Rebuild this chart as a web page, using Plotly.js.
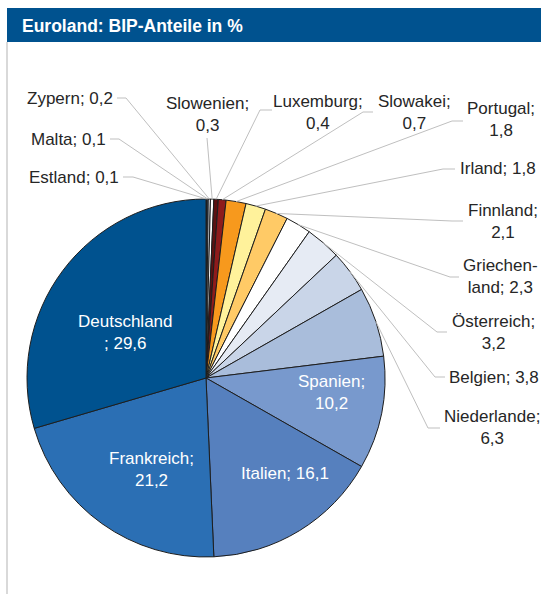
<!DOCTYPE html>
<html>
<head>
<meta charset="utf-8">
<script src="https://cdn.plot.ly/plotly-3.0.1.min.js"></script>
<style>html,body{margin:0;padding:0;background:#fff;}#chart{width:541px;height:594px;}</style>
</head>
<body>
<div id="chart"></div>
<script>
// ---- data ----
const countries = ['Estland','Malta','Zypern','Slowenien','Luxemburg','Slowakei','Portugal','Irland','Finnland','Griechenland','Österreich','Belgien','Niederlande','Spanien','Italien','Frankreich','Deutschland'];
const shares = [0.1,0.1,0.2,0.3,0.4,0.7,1.8,1.8,2.1,2.3,3.2,3.8,6.3,10.2,16.1,21.2,29.6];
const sliceColors = ['#262626','#4F81BD','#D0D5DD','#FFFFFF','#5C1111','#8E1B1B','#F7991D','#FFF29B','#FFCA66','#FFFFFF','#E6EBF4','#C9D5E8','#A9BDDB','#7899CD','#5680BE','#2B6FB4','#00528F'];
const titleText = 'Euroland: BIP-Anteile in %';

// ---- layout constants (pixels) ----
const W = 541, H = 594;
const CX = 206, CY = 378, R = 179;
const px = x => x / W;
const py = y => 1 - y / H;
const fmt = v => v.toFixed(1).replace('.', ',');

// label placement: text position, anchors, line template, leader elbow + stub end (outside labels)
const labelPlace = {
  'Estland':     {x:121, y:177, xa:'right',  tpl:'{n}; {v}', lead:[[133,177],[123,177]]},
  'Malta':       {x:108, y:139, xa:'right',  tpl:'{n}; {v}', lead:[[119,139],[110,139]]},
  'Zypern':      {x:115, y:98,  xa:'right',  tpl:'{n}; {v}', lead:[[126,98],[117,98]]},
  'Slowenien':   {x:207, y:114, xa:'center', tpl:'{n};<br>{v}', lead:[[207,138]]},
  'Luxemburg':   {x:318, y:112, xa:'center', tpl:'{n};<br>{v}', lead:[[260,110],[272,110]]},
  'Slowakei':    {x:414, y:112, xa:'center', tpl:'{n};<br>{v}', lead:[[363,112],[373,112]]},
  'Portugal':    {x:501, y:120, xa:'center', tpl:'{n};<br>{v}', lead:[[452,121],[463,121]]},
  'Irland':      {x:458, y:168, xa:'left',   tpl:'{n}; {v}', lead:[[443,169],[455,169]]},
  'Finnland':    {x:503, y:221, xa:'center', tpl:'{n};<br>{v}', lead:[[452,221],[463,221]]},
  'Griechenland':{x:500, y:277, xa:'center', tpl:'Griechen-<br>land; {v}', lead:[[450,277],[459,277]]},
  'Österreich':  {x:493, y:332, xa:'center', tpl:'{n};<br>{v}', lead:[[437,332],[447,332]]},
  'Belgien':     {x:447, y:377, xa:'left',   tpl:'{n}; {v}', lead:[[435,377],[445,377]]},
  'Niederlande': {x:492, y:427, xa:'center', tpl:'{n};<br>{v}', lead:[[428,428],[440,428]]},
  'Spanien':     {x:331, y:392, xa:'center', tpl:'{n};<br>{v}', inside:true},
  'Italien':     {x:285, y:473, xa:'center', tpl:'{n}; {v}', inside:true},
  'Frankreich':  {x:151, y:469, xa:'center', tpl:'{n};<br>{v}', inside:true},
  'Deutschland': {x:125, y:333, xa:'center', tpl:'{n}<br>; {v}', inside:true}
};

const total = shares.reduce((a,b)=>a+b,0);
const annotations = [];
const shapes = [];

// title bar + left border
shapes.push({type:'rect', xref:'paper', yref:'paper', x0:px(7), x1:1, y0:py(42), y1:py(8), fillcolor:'#00528F', line:{width:0}, layer:'below'});
shapes.push({type:'line', xref:'paper', yref:'paper', x0:px(7), x1:px(7), y0:py(42), y1:0, line:{color:'#D9D9D9', width:2}, layer:'below'});
annotations.push({xref:'paper', yref:'paper', x:px(20), y:py(26), xanchor:'left', yanchor:'middle', showarrow:false,
  text:'<b>'+titleText+'</b>', font:{family:'Liberation Sans, Arial, sans-serif', size:17.5, color:'#FFFFFF'}});

let cum = 0;
countries.forEach((c, i) => {
  const v = shares[i];
  const mid = (cum + v/2) / total * 2 * Math.PI;
  cum += v;
  const p = labelPlace[c];
  const text = p.tpl.replace('{n}', c).replace('{v}', fmt(v));
  annotations.push({xref:'paper', yref:'paper', x:px(p.x), y:py(p.y), xanchor:p.xa, yanchor:'middle',
    showarrow:false, align:'center', text:text,
    font:{family:'Liberation Sans, Arial, sans-serif', size:17, color:p.inside ? '#FFFFFF' : '#262626'}});
  if (!p.inside) {
    const sx = CX + R * Math.sin(mid), sy = CY - R * Math.cos(mid);
    let d = 'M' + px(sx) + ',' + py(sy);
    p.lead.forEach(pt => { d += ' L' + px(pt[0]) + ',' + py(pt[1]); });
    shapes.push({type:'path', xref:'paper', yref:'paper', path:d, line:{color:'#BFBFBF', width:1}});
  }
});

const trace = {
  type:'pie',
  labels: countries,
  values: shares,
  sort:false,
  direction:'clockwise',
  rotation:0,
  textinfo:'none',
  hoverinfo:'label+value',
  marker:{colors: sliceColors, line:{color:'#1E1E1E', width:1}},
  domain:{x:[px(CX-R), px(CX+R)], y:[py(CY+R), py(CY-R)]},
  showlegend:false
};

const layout = {
  width:W, height:H,
  margin:{l:0, r:0, t:0, b:0},
  paper_bgcolor:'#FFFFFF',
  showlegend:false,
  shapes: shapes,
  annotations: annotations
};

Plotly.newPlot('chart', [trace], layout, {displayModeBar:false, staticPlot:true});
</script>
</body>
</html>
